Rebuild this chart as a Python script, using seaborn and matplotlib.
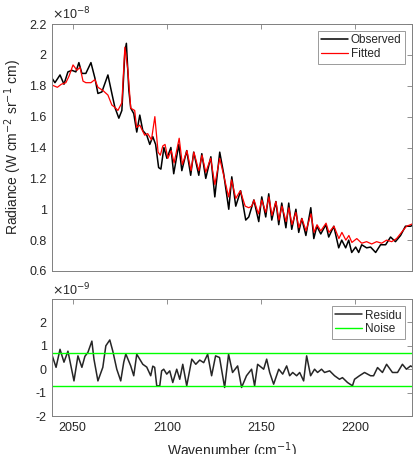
import numpy as np
import pandas as pd
import matplotlib
matplotlib.use("Agg")
import matplotlib.pyplot as plt
import seaborn as sns
from matplotlib.ticker import FuncFormatter

# radiance values in units of 1e-8 W cm-2 sr-1 cm
wn_obs = [2039.0, 2040.6, 2043.3, 2045.4, 2047.5, 2049.6, 2051.7, 2053.3, 2054.9, 2057.0,
          2059.7, 2061.8, 2063.4, 2065.5, 2068.7, 2070.8, 2072.4, 2074.5, 2076.1, 2077.7,
          2078.5, 2079.8, 2080.8, 2082.4, 2084.0, 2085.6, 2087.2, 2089.3, 2090.9, 2092.5,
          2094.0, 2095.6, 2096.8, 2098.4, 2100.0, 2102.1, 2103.6, 2106.3, 2107.9, 2110.5,
          2112.6, 2114.2, 2116.9, 2118.5, 2120.6, 2123.3, 2125.4, 2128.0, 2130.1, 2132.8,
          2134.4, 2136.5, 2139.1, 2141.8, 2143.4, 2146.1, 2148.7, 2150.3, 2152.4, 2154.0,
          2155.6, 2157.8, 2159.3, 2160.9, 2163.1, 2164.6, 2166.2, 2168.4, 2169.9, 2171.5,
          2173.7, 2176.3, 2177.9, 2179.5, 2181.6, 2184.3, 2185.8, 2188.5, 2191.1, 2192.7,
          2194.8, 2196.4, 2198.0, 2200.1, 2201.7, 2203.3, 2205.9, 2208.0, 2210.7, 2213.3,
          2216.0, 2218.6, 2221.2, 2223.9, 2226.5, 2229.2, 2231.0]
observed = [1.85, 1.82, 1.87, 1.81, 1.89, 1.90, 1.89, 1.95, 1.88, 1.88,
            1.95, 1.85, 1.75, 1.76, 1.87, 1.75, 1.66, 1.59, 1.64, 2.02,
            2.075, 1.77, 1.655, 1.62, 1.50, 1.61, 1.51, 1.48, 1.42, 1.47,
            1.42, 1.27, 1.26, 1.40, 1.33, 1.40, 1.23, 1.42, 1.25, 1.38,
            1.22, 1.37, 1.22, 1.36, 1.20, 1.34, 1.08, 1.37, 1.23, 1.00,
            1.21, 1.02, 1.12, 0.93, 0.95, 1.06, 0.92, 1.08, 0.95, 1.10,
            0.93, 1.05, 0.90, 1.04, 0.88, 1.04, 0.87, 1.00, 0.85, 0.94,
            0.83, 1.01, 0.81, 0.89, 0.84, 0.90, 0.82, 0.89, 0.75, 0.80,
            0.75, 0.80, 0.72, 0.755, 0.72, 0.77, 0.75, 0.755, 0.72, 0.77,
            0.77, 0.82, 0.79, 0.83, 0.89, 0.89, 0.90]

wn_fit = [2039.0, 2041.9, 2044.0, 2046.4, 2048.0, 2050.2, 2052.3, 2053.9, 2055.5, 2057.0,
          2059.7, 2061.8, 2063.4, 2066.0, 2068.7, 2070.8, 2072.4, 2074.0, 2076.1, 2077.7,
          2079.3, 2080.8, 2082.9, 2083.9, 2085.6, 2088.2, 2089.8, 2091.8, 2093.6, 2095.3,
          2096.5, 2097.8, 2099.0, 2100.5, 2102.3, 2103.8, 2106.5, 2108.2, 2110.6, 2112.8,
          2114.3, 2116.9, 2118.6, 2120.6, 2123.2, 2125.4, 2128.0, 2130.1, 2132.7, 2134.3,
          2136.5, 2138.9, 2141.5, 2143.4, 2145.0, 2146.2, 2148.5, 2150.3, 2152.4, 2154.1,
          2155.7, 2157.8, 2159.4, 2161.0, 2163.2, 2164.7, 2166.3, 2168.4, 2170.0, 2171.6,
          2173.8, 2176.4, 2178.0, 2179.6, 2181.6, 2184.4, 2185.9, 2188.6, 2191.2, 2192.8,
          2194.9, 2196.5, 2198.1, 2200.7, 2203.3, 2205.9, 2208.6, 2211.2, 2213.9, 2216.5,
          2219.2, 2221.8, 2224.4, 2227.1, 2229.2, 2231.0]
fitted = [1.805, 1.79, 1.81, 1.82, 1.86, 1.935, 1.90, 1.92, 1.83, 1.82,
          1.82, 1.84, 1.79, 1.77, 1.74, 1.675, 1.66, 1.64, 1.69, 2.05,
          1.90, 1.655, 1.64, 1.53, 1.545, 1.48, 1.49, 1.45, 1.60, 1.37,
          1.35, 1.41, 1.42, 1.33, 1.38, 1.30, 1.46, 1.29, 1.38, 1.25,
          1.37, 1.25, 1.35, 1.24, 1.33, 1.16, 1.33, 1.22, 1.08, 1.19,
          1.07, 1.12, 1.02, 1.01, 1.02, 1.06, 0.97, 1.06, 0.98, 1.08,
          0.96, 1.05, 0.93, 1.02, 0.92, 1.01, 0.90, 0.98, 0.88, 0.94,
          0.86, 0.97, 0.85, 0.90, 0.86, 0.91, 0.85, 0.89, 0.81, 0.85,
          0.80, 0.83, 0.785, 0.81, 0.78, 0.79, 0.775, 0.79, 0.78, 0.80,
          0.79, 0.81, 0.85, 0.89, 0.90, 0.91]

# residual in units of 1e-9
wn_res = [2039.2, 2041.2, 2043.3, 2045.4, 2047.5, 2050.7, 2052.8, 2054.9, 2056.5, 2058.1,
          2060.2, 2061.3, 2063.4, 2066.0, 2067.6, 2069.7, 2071.3, 2073.4, 2075.5, 2077.1,
          2078.2, 2080.8, 2082.4, 2084.0, 2087.2, 2089.3, 2091.4, 2092.5, 2093.5, 2094.6,
          2096.2, 2097.2, 2098.3, 2099.9, 2101.5, 2103.1, 2105.2, 2106.8, 2108.4, 2110.5,
          2113.2, 2115.3, 2117.4, 2119.5, 2121.6, 2123.7, 2125.8, 2127.9, 2130.6, 2132.7,
          2134.8, 2137.5, 2139.6, 2142.2, 2144.9, 2146.5, 2148.1, 2151.3, 2152.9, 2154.5,
          2156.6, 2159.3, 2161.4, 2163.5, 2165.1, 2166.7, 2168.8, 2170.4, 2172.5, 2174.1,
          2176.2, 2178.3, 2179.9, 2182.0, 2183.6, 2186.3, 2188.9, 2191.5, 2193.1, 2195.8,
          2198.4, 2199.5, 2202.1, 2204.8, 2208.0, 2209.6, 2211.7, 2214.3, 2216.5, 2219.6,
          2222.3, 2224.9, 2227.0, 2229.2, 2230.2]
residu = [0.57, 0.08, 0.85, 0.30, 0.77, -0.50, 0.57, 0.08, 0.55, 0.72,
          1.20, 0.43, -0.50, 0.08, 1.00, 1.25, 0.77, 0.00, -0.50, 0.30,
          0.65, 0.14, -0.28, 0.64, 0.21, 0.09, -0.28, 0.13, 0.08, -0.71,
          -0.71, -0.07, 0.00, -0.21, -0.07, -0.57, 0.00, -0.43, 0.21, -0.71,
          0.43, 0.21, 0.39, 0.28, 0.64, -0.28, 0.57, 0.50, -0.78, 0.64,
          -0.14, 0.14, -0.78, -0.28, 0.00, -0.71, 0.21, 0.00, 0.43, -0.14,
          -0.64, 0.00, -0.21, 0.14, -0.28, -0.14, -0.28, -0.14, -0.50, 0.57,
          -0.28, 0.00, -0.14, 0.00, -0.14, -0.07, -0.28, -0.43, -0.36, -0.57,
          -0.71, -0.43, -0.28, -0.14, -0.28, -0.28, 0.07, -0.14, 0.21, -0.14,
          -0.14, 0.21, 0.00, 0.14, 0.10]
noise_level = 0.7

xticks = [2050, 2100, 2150, 2200]
top_yticks = [0.6, 0.8, 1.0, 1.2, 1.4, 1.6, 1.8, 2.0, 2.2]
bot_yticks = [-2, -1, 0, 1, 2]

sns.set_style("white")
plt.rcParams["font.family"] = ["Liberation Sans", "DejaVu Sans"]
plt.rcParams["axes.unicode_minus"] = False

df_obs = pd.DataFrame({"wn": wn_obs, "rad": observed})
df_fit = pd.DataFrame({"wn": wn_fit, "rad": fitted})
df_res = pd.DataFrame({"wn": wn_res, "res": residu})

fig = plt.figure(figsize=(4.13, 4.54), dpi=100)
ax1 = fig.add_axes([0.1266, 0.4031, 0.872, 0.544])
ax2 = fig.add_axes([0.1266, 0.0837, 0.872, 0.2577])

txt = "#262626"
spine = "#7f7f7f"

sns.lineplot(data=df_obs, x="wn", y="rad", ax=ax1, color="black", lw=1.1,
             label="Observed", sort=False, estimator=None)
sns.lineplot(data=df_fit, x="wn", y="rad", ax=ax1, color="#ff0000", lw=0.9,
             label="Fitted", sort=False, estimator=None)
sns.lineplot(data=df_res, x="wn", y="res", ax=ax2, color="#262626", lw=1.1,
             label="Residu", sort=False, estimator=None)
ax2.axhline(noise_level, color="#00ff00", lw=1.0, label="Noise")
ax2.axhline(-noise_level, color="#00ff00", lw=1.0)

fmt = FuncFormatter(lambda v, p: f"{v:g}")
for ax in (ax1, ax2):
    ax.set_xlim(2039.2, 2230.2)
    ax.set_xticks(xticks)
    ax.tick_params(direction="in", top=True, right=True, length=3.5, width=0.6,
                   colors=spine, labelcolor=txt, labelsize=9, pad=4)
    ax.yaxis.set_major_formatter(fmt)
    for s in ax.spines.values():
        s.set_color(spine)
        s.set_linewidth(0.7)
    ax.set_xlabel("")
    ax.set_ylabel("")

ax1.set_ylim(0.6, 2.2)
ax1.set_yticks(top_yticks)
ax1.set_xticklabels([])
ax2.set_ylim(-2, 3)
ax2.set_yticks(bot_yticks)

ax1.set_ylabel("Radiance (W cm$^{-2}$ sr$^{-1}$ cm)", fontsize=10, color=txt, labelpad=4)
ax2.set_xlabel("Wavenumber (cm$^{-1}$)", fontsize=10, color=txt, labelpad=5)
ax1.text(0.0, 1.005, r"$\times$10$^{-8}$", transform=ax1.transAxes, fontsize=9,
         color=txt, va="bottom", ha="left")
ax2.text(0.0, 1.01, r"$\times$10$^{-9}$", transform=ax2.transAxes, fontsize=9,
         color=txt, va="bottom", ha="left")

for ax, anchor, handles in ((ax1, (0.979, 0.972), None), (ax2, (0.979, 0.94), None)):
    h, l = ax.get_legend_handles_labels()
    leg = ax.legend(h, l, loc="upper right", bbox_to_anchor=anchor, borderaxespad=0,
                    frameon=True, fancybox=False, framealpha=1, edgecolor="#9a9a9a",
                    fontsize=8.5, handlelength=2.3, handletextpad=0.2,
                    borderpad=0.3, labelspacing=0.15)
    leg.get_frame().set_linewidth(0.7)
    for t in leg.get_texts():
        t.set_color(txt)

fig.savefig("out.png", dpi=100)
